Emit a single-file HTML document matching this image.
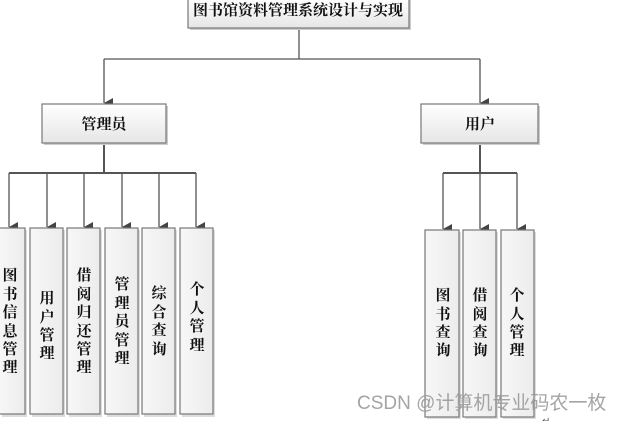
<!DOCTYPE html>
<html><head><meta charset="utf-8"><style>
html,body{margin:0;padding:0;background:#fff;width:623px;height:421px;overflow:hidden}
svg{display:block}
text{font-family:"Liberation Serif","Noto Serif CJK SC",serif;font-weight:bold;fill:#111}
</style></head><body>
<svg width="623" height="421" viewBox="0 0 623 421" xmlns="http://www.w3.org/2000/svg">
<defs>
<linearGradient id="g" x1="0" y1="0" x2="0" y2="1"><stop offset="0" stop-color="#ffffff"/><stop offset="1" stop-color="#e6e6e6"/></linearGradient>
<linearGradient id="gv" x1="0" y1="0" x2="1" y2="0"><stop offset="0" stop-color="#f7f7f7"/><stop offset="1" stop-color="#ececec"/></linearGradient>
<marker id="a" markerWidth="10" markerHeight="10" refX="5" refY="9" orient="auto" markerUnits="userSpaceOnUse"><path d="M0,0 L10,0 L5,9 z" fill="#444"/></marker>
</defs>
<g stroke="#555" stroke-width="1.3" fill="none">
<path d="M299,28 V59 M104,59 H480"/>
<path d="M104,59 V103" marker-end="url(#a)"/>
<path d="M480,59 V103" marker-end="url(#a)"/>
<path d="M104,143 V173 M9,173 H196" stroke-width="2"/>
<path d="M9,173 V227" marker-end="url(#a)"/>
<path d="M47,173 V227" marker-end="url(#a)"/>
<path d="M84,173 V227" marker-end="url(#a)"/>
<path d="M122,173 V227" marker-end="url(#a)"/>
<path d="M159,173 V227" marker-end="url(#a)"/>
<path d="M196,173 V227" marker-end="url(#a)"/>
<path d="M480,143 V173 M443,173 H517" stroke-width="2"/>
<path d="M443,173 V229" marker-end="url(#a)"/>
<path d="M480,173 V229" marker-end="url(#a)"/>
<path d="M517,173 V229" marker-end="url(#a)"/>
</g>
<g stroke="#777" stroke-width="1.2">
<rect x="190" y="0" width="221" height="30" fill="#ccc" stroke="none"/>
<rect x="188" y="-2" width="221" height="30" fill="url(#g)"/>
<rect x="44" y="106" width="124" height="39" fill="#ccc" stroke="none"/>
<rect x="42" y="104" width="124" height="39" fill="url(#g)"/>
<rect x="423" y="106" width="117" height="39" fill="#ccc" stroke="none"/>
<rect x="421" y="104" width="117" height="39" fill="url(#g)"/>
<g fill="#ddd" stroke="none">
<rect x="2" y="230" width="25" height="187"/><rect x="32" y="230" width="33" height="187"/><rect x="69" y="230" width="33" height="187"/><rect x="107" y="230" width="33" height="187"/><rect x="144" y="230" width="33" height="187"/><rect x="182" y="230" width="33" height="187"/>
<rect x="427" y="232" width="34" height="187"/><rect x="465" y="232" width="33" height="187"/><rect x="503" y="232" width="33" height="187"/>
</g>
<g fill="url(#gv)">
<rect x="-1" y="228" width="26" height="186"/><rect x="30" y="228" width="33" height="186"/><rect x="67" y="228" width="33" height="186"/><rect x="105" y="228" width="33" height="186"/><rect x="142" y="228" width="33" height="186"/><rect x="180" y="228" width="33" height="186"/>
<rect x="425" y="230" width="34" height="187"/><rect x="463" y="230" width="33" height="187"/><rect x="501" y="230" width="33" height="187"/>
</g>
</g>
<text x="298" y="15" font-size="15" text-anchor="middle">图书馆资料管理系统设计与实现</text>
<text x="104" y="129" font-size="15" text-anchor="middle">管理员</text>
<text x="480" y="129" font-size="15" text-anchor="middle">用户</text>
<g font-size="15" text-anchor="middle">
<text x="10"><tspan x="10" y="280">图</tspan><tspan x="10" y="299">书</tspan><tspan x="10" y="317">信</tspan><tspan x="10" y="336">息</tspan><tspan x="10" y="354">管</tspan><tspan x="10" y="372">理</tspan></text>
<text><tspan x="47" y="303">用</tspan><tspan x="47" y="322">户</tspan><tspan x="47" y="340">管</tspan><tspan x="47" y="358">理</tspan></text>
<text><tspan x="84" y="280">借</tspan><tspan x="84" y="299">阅</tspan><tspan x="84" y="317">归</tspan><tspan x="84" y="336">还</tspan><tspan x="84" y="354">管</tspan><tspan x="84" y="372">理</tspan></text>
<text><tspan x="122" y="289">管</tspan><tspan x="122" y="308">理</tspan><tspan x="122" y="326">员</tspan><tspan x="122" y="345">管</tspan><tspan x="122" y="363">理</tspan></text>
<text><tspan x="159" y="298">综</tspan><tspan x="159" y="317">合</tspan><tspan x="159" y="335">查</tspan><tspan x="159" y="354">询</tspan></text>
<text><tspan x="197" y="294">个</tspan><tspan x="197" y="313">人</tspan><tspan x="197" y="331">管</tspan><tspan x="197" y="350">理</tspan></text>
<text><tspan x="443" y="300">图</tspan><tspan x="443" y="319">书</tspan><tspan x="443" y="337">查</tspan><tspan x="443" y="355">询</tspan></text>
<text><tspan x="480" y="300">借</tspan><tspan x="480" y="319">阅</tspan><tspan x="480" y="337">查</tspan><tspan x="480" y="355">询</tspan></text>
<text><tspan x="517" y="300">个</tspan><tspan x="517" y="319">人</tspan><tspan x="517" y="337">管</tspan><tspan x="517" y="355">理</tspan></text>
</g>
<text x="357" y="409" font-size="19" style="font-family:'Liberation Sans','Noto Sans CJK SC',sans-serif;font-weight:normal;fill:#9a9a9a;fill-opacity:0.9">CSDN @计算机专业码农一枚</text>
<text x="542" y="424" font-size="10" style="font-family:'Liberation Sans',sans-serif;font-weight:normal;fill:#555">↵</text>
</svg>
</body></html>
